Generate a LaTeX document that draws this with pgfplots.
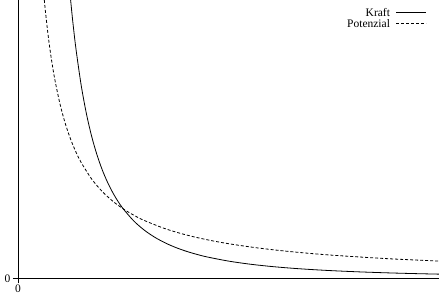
\documentclass[border=0pt]{standalone}
\usepackage{pgfplots}
\pgfplotsset{compat=1.18}
\usepackage{fontspec}
\setmainfont{Liberation Serif}
\begin{document}
\begin{tikzpicture}
\begin{axis}[
  scale only axis,
  width=421pt, height=278.5pt,
  xmin=0, xmax=4, ymin=0, ymax=4,
  axis lines=left,
  axis line style={-, line width=0.8pt},
  xtick={0}, ytick={0},
  tick align=outside,
  major tick length=5pt,
  tick style={line width=0.8pt, black},
  /pgf/number format/assume math mode=true,
  tick label style={font=\fontsize{11.5}{13}\selectfont},
  xticklabel style={yshift=2.5pt},
  yticklabel style={xshift=1pt},
  clip=true,
  legend plot pos=right,
  legend cell align=right,
  legend image code/.code={\draw[#1] (0pt,0pt) -- (30pt,0pt);},
  legend style={draw=none, fill=none, at={(0.971,0.975)}, anchor=north east,
    inner sep=0pt, row sep=0pt, column sep=5pt,
    font=\fontsize{11.5}{12}\selectfont,
    nodes={inner sep=0.8pt}},
]
\addplot[black, line width=0.8pt, smooth] coordinates {
(0.5,4) (0.52,3.698) (0.55,3.306) (0.6,2.778) (0.65,2.367) (0.7,2.041)
(0.75,1.778) (0.8,1.5625) (0.85,1.384) (0.9,1.235) (0.95,1.108) (1.0,1)
(1.1,0.8264) (1.2,0.6944) (1.3,0.5917) (1.4,0.5102) (1.5,0.4444)
(1.6,0.3906) (1.7,0.3460) (1.8,0.3086) (2.0,0.25) (2.2,0.2066)
(2.4,0.1736) (2.6,0.1479) (2.8,0.1276) (3.0,0.1111) (3.25,0.0947)
(3.5,0.0816) (3.75,0.0711) (4.0,0.0625)
};
\addlegendentry{Kraft}
\addplot[black, line width=0.8pt, dash pattern=on 3pt off 2pt, smooth] coordinates {
(0.25,4) (0.26,3.846) (0.28,3.571) (0.3,3.333) (0.32,3.125) (0.35,2.857)
(0.4,2.5) (0.45,2.222) (0.5,2) (0.55,1.818) (0.6,1.667) (0.7,1.4286)
(0.8,1.25) (0.9,1.111) (1.0,1) (1.1,0.9091) (1.2,0.8333) (1.4,0.7143)
(1.6,0.625) (1.8,0.5556) (2.0,0.5) (2.25,0.4444) (2.5,0.4) (2.75,0.3636)
(3.0,0.3333) (3.5,0.2857) (4.0,0.25)
};
\addlegendentry{Potenzial}
\coordinate (O) at (rel axis cs:0,0);
\coordinate (T) at (rel axis cs:1,1);
\end{axis}
\pgfresetboundingbox
\path[use as bounding box] (O) ++(-18pt,-15.5pt) rectangle (T);
\end{tikzpicture}
\end{document}
